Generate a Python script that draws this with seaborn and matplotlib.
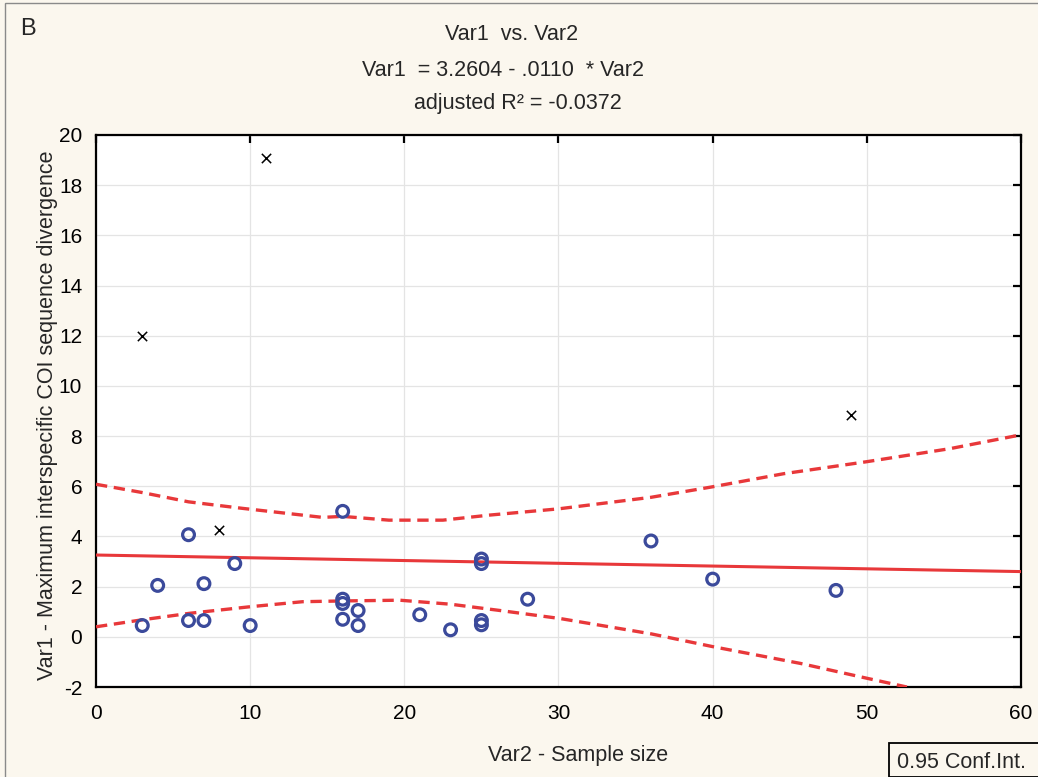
import matplotlib
matplotlib.use("Agg")
import matplotlib.pyplot as plt
import seaborn as sns
import pandas as pd
from matplotlib.patches import Rectangle

# ---- data ----
pts_x = [3, 4, 6, 6, 7, 7, 9, 10, 16, 16, 16, 16, 17, 17, 21, 23, 25, 25, 25, 25, 28, 36, 40, 48]
pts_y = [0.45, 2.05, 4.07, 0.65, 2.12, 0.65, 2.92, 0.45, 5.0, 1.5, 1.33, 0.7, 1.05, 0.45,
         0.88, 0.28, 3.1, 2.92, 0.65, 0.48, 1.5, 3.82, 2.3, 1.85]
out_x = [3, 8, 11, 49]
out_y = [12.0, 4.25, 19.1, 8.85]

intercept = 3.2604
slope = -0.0110
fit_x = [0, 60]

upper_x = [0, 3, 6, 9.5, 14.7, 16, 19, 22.5, 25.5, 30, 36, 40, 44.6, 50, 55.4, 60]
upper_y = [6.08, 5.75, 5.38, 5.12, 4.76, 4.8, 4.65, 4.65, 4.85, 5.1, 5.56, 5.98, 6.5, 6.98, 7.5, 8.05]
lower_x = [0, 2.9, 6.1, 10, 13.4, 16, 19.7, 23, 26.2, 30.1, 36, 40, 45.7, 50, 52.6]
lower_y = [0.4, 0.67, 0.94, 1.2, 1.4, 1.43, 1.46, 1.3, 1.05, 0.73, 0.12, -0.39, -1.06, -1.65, -2.0]

x_ticks = [0, 10, 20, 30, 40, 50, 60]
y_ticks = [-2, 0, 2, 4, 6, 8, 10, 12, 14, 16, 18, 20]

title1 = "Var1  vs. Var2"
title2 = "Var1  = 3.2604 - .0110  * Var2"
title3 = "adjusted R² = -0.0372"
xlabel = "Var2 - Sample size"
ylabel = "Var1 - Maximum interspecific COI sequence divergence"
panel = "B"
legend_text = "0.95 Conf.Int."

# ---- style ----
sns.set_theme(style="white")
plt.rcParams['font.family'] = ['Liberation Sans', 'DejaVu Sans']
plt.rcParams['axes.unicode_minus'] = False

BG = '#FBF7EE'
RED = '#E8383A'
BLUE = '#3B4A9B'
FS = 15.5

fig = plt.figure(figsize=(10.38, 7.77), dpi=100, facecolor=BG)
ax = fig.add_axes([0.0925, 0.1158, 0.8911, 0.7105])
ax.set_facecolor('white')

df_pts = pd.DataFrame({'x': pts_x, 'y': pts_y})
df_out = pd.DataFrame({'x': out_x, 'y': out_y})
fit_y = [intercept + slope * v for v in fit_x]
df_fit = pd.DataFrame({'x': fit_x, 'y': fit_y})
df_up = pd.DataFrame({'x': upper_x, 'y': upper_y})
df_lo = pd.DataFrame({'x': lower_x, 'y': lower_y})

sns.lineplot(data=df_fit, x='x', y='y', ax=ax, color=RED, lw=2.2, zorder=3)
for d in (df_up, df_lo):
    sns.lineplot(data=d, x='x', y='y', ax=ax, color=RED, lw=2.4, zorder=3, sort=False)
    ax.lines[-1].set_dashes((3.4, 2.0))

sns.scatterplot(data=df_pts, x='x', y='y', ax=ax, marker='o', s=72,
                facecolors='none', edgecolor=BLUE, linewidth=2.3, zorder=4)
sns.scatterplot(data=df_out, x='x', y='y', ax=ax, marker='x', s=45,
                color='black', linewidth=1.1, zorder=4)

ax.set_xlim(0, 60)
ax.set_ylim(-2, 20)
ax.set_xticks(x_ticks)
ax.set_yticks(y_ticks)
ax.grid(True, color='#E4E4E4', lw=0.9)
ax.set_axisbelow(True)
for s in ax.spines.values():
    s.set_color('black')
    s.set_linewidth(1.6)
ax.tick_params(direction='in', length=6, width=1.6, colors='black',
               top=True, right=True, labelsize=15)
ax.tick_params(axis='x', pad=12)
ax.tick_params(axis='y', pad=10)
ax.set_xlabel(xlabel, fontsize=FS)
ax.set_ylabel(ylabel, fontsize=FS)
ax.xaxis.set_label_coords((578 - 96) / 925, (687 - 745) / 552)
ax.yaxis.set_label_coords((58 - 96) / 925, (687 - 415) / 552)

fig.text(28 / 1038, 1 - 29 / 777, panel, fontsize=17, ha='center', va='center')
fig.text(512 / 1038, 1 - 35 / 777, title1, fontsize=FS, ha='center', va='center')
fig.text(503 / 1038, 1 - 70 / 777, title2, fontsize=FS, ha='center', va='center')
fig.text(518 / 1038, 1 - 103 / 777, title3, fontsize=FS, ha='center', va='center')

# legend box
fig.patches.append(Rectangle((889 / 1038, 0), 0.2, 34 / 777, transform=fig.transFigure,
                             facecolor=BG, edgecolor='black', lw=1.3, clip_on=False))
fig.text(897 / 1038, 1 - 762 / 777, legend_text, fontsize=FS, ha='left', va='center')

# figure border
fig.patches.append(Rectangle((5 / 1038, -0.01), 1.1, 1 - 3 / 777 + 0.01, transform=fig.transFigure,
                             facecolor='none', edgecolor='#8A8A8A', lw=1.0))

fig.savefig('out.png', dpi=100, facecolor=BG)
